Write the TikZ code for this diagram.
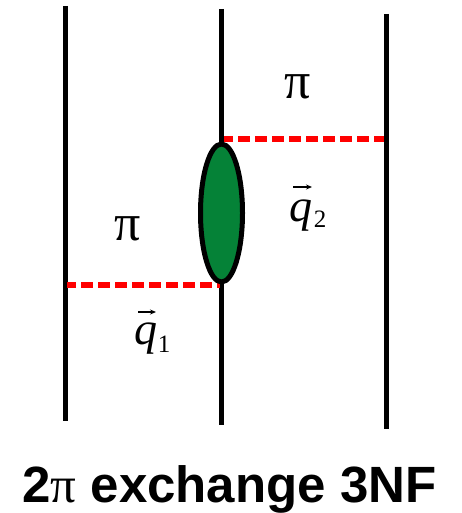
\documentclass[tikz,border=0pt]{standalone}
\usepackage{fontspec}
\setmainfont{Liberation Serif}
\newfontfamily\titlefont{Liberation Sans}[BoldFont={Liberation Sans Bold}]
\usetikzlibrary{shapes.geometric,arrows.meta}
\tikzset{
  x=1pt,y=-1pt,
  nucleon/.style={line width=5pt,black},
  pion/.style={line width=5.5pt,red,dash pattern=on 11.5pt off 5.5pt,dash phase=3pt},
  blob/.style={ellipse,draw=black,line width=5pt,fill=vertexgreen,minimum width=42pt,minimum height=138pt,inner sep=0pt},
  pilabel/.style={font=\fontsize{52}{52}\selectfont,inner sep=0pt},
  qlabel/.style={font=\itshape\fontsize{46}{46}\selectfont,inner sep=0pt,anchor=base},
  sublabel/.style={font=\fontsize{25}{25}\selectfont,inner sep=0pt,anchor=base},
  vecarrow/.style={line width=1.2pt,-{Stealth[length=6pt,width=5pt]}},
  caption/.style={font=\titlefont\bfseries\fontsize{51}{51}\selectfont,inner sep=0pt,anchor=base}
}
\definecolor{vertexgreen}{RGB}{5,130,55}
\begin{document}
\begin{tikzpicture}
\useasboundingbox (0,0) rectangle (462,513);
\coordinate (lt) at (65,6);
\coordinate (lb) at (65,421);
\coordinate (mt) at (221,9);
\coordinate (mb) at (221,425);
\coordinate (rt) at (386,14);
\coordinate (rb) at (386,429);
\coordinate (p1l) at (67,285);
\coordinate (p1r) at (220,285);
\coordinate (p2l) at (224,139);
\coordinate (p2r) at (384,139);
\coordinate (a1l) at (138,312);
\coordinate (a1r) at (156,312);
\coordinate (a2l) at (293,187);
\coordinate (a2r) at (312,187);
\draw[nucleon] (lt) -- (lb);
\draw[nucleon] (mt) -- (mb);
\draw[nucleon] (rt) -- (rb);
\draw[pion] (p1l) -- (p1r);
\draw[pion] (p2l) -- (p2r);
\node[blob] (v) at (221.5,213) {};
\node[pilabel] (pi1) at (128,229) {π};
\node[pilabel] (pi2) at (298,87) {π};
\node[qlabel] (q1) at (146,344.5) {q};
\node[sublabel] (s1) at (164,352) {1};
\node[qlabel] (q2) at (301,221) {q};
\node[sublabel] (s2) at (320,227) {2};
\draw[vecarrow] (a1l) -- (a1r);
\draw[vecarrow] (a2l) -- (a2r);
\node[caption] (cap) at (229.5,502) {2{\mdseries\fontspec{Liberation Serif}π} exchange 3NF};
\end{tikzpicture}
\end{document}
